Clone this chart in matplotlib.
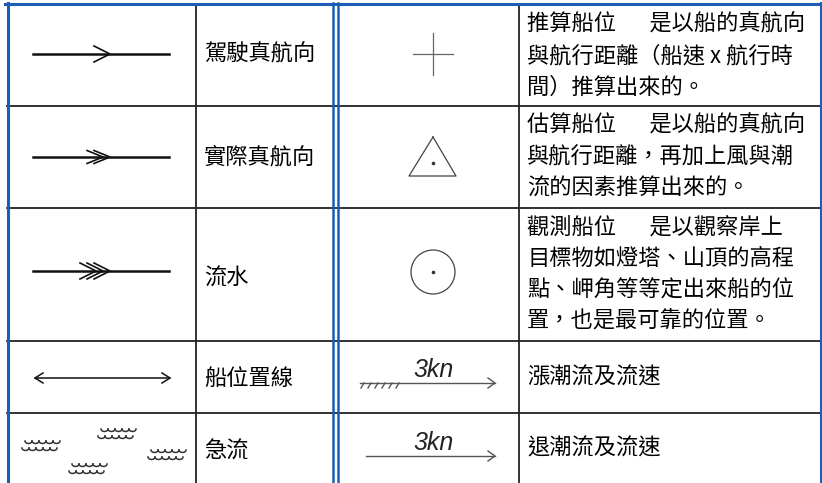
import numpy as np
import matplotlib
matplotlib.use('Agg')
import matplotlib.pyplot as plt

plt.rcParams['font.family'] = ['Noto Sans CJK TC', 'DejaVu Sans']

# 表格內容
labels = ["駕駛真航向", "實際真航向", "流水", "船位置線", "急流"]
descriptions = [
    ["推算船位\u2002\u3000是以船的真航向", "與航行距離（船速 x 航行時", "間）推算出來的。"],
    ["估算船位\u2002\u3000是以船的真航向", "與航行距離，再加上風與潮", "流的因素推算出來的。"],
    ["觀測船位\u2002\u3000是以觀察岸上", "目標物如燈塔、山頂的高程", "點、岬角等等定出來船的位", "置，也是最可靠的位置。"],
    ["漲潮流及流速"],
    ["退潮流及流速"],
]
speed_label = "3kn"

# 版面 (像素座標)
W, H = 822, 483
row_edges = [4, 106, 208, 341, 413, 483]
col_x = [7, 196, 335, 519, 821]
label_y = [54, 157, 278, 378, 451]
desc_first_y = [24, 125, 227, 377, 448]
line_gap = 31.5
blue = '#1c5db5'
ink = '#111111'

fig = plt.figure(figsize=(W / 100, H / 100), dpi=100)
ax = fig.add_axes([0, 0, 1, 1])
ax.set_xlim(0, W)
ax.set_ylim(H, 0)
ax.axis('off')

# 格線
for y in row_edges[1:-1]:
    ax.plot([col_x[0], col_x[-1]], [y, y], color='#222222', lw=1.3)
for x in [col_x[1], col_x[3]]:
    ax.plot([x, x], [row_edges[0], H], color='#222222', lw=1.3)

# 藍色外框與雙線
ax.plot([5, W], [3.5, 3.5], color=blue, lw=2.2)
ax.plot([7.5, 7.5], [3, H], color=blue, lw=2.2)
ax.plot([820.5, 820.5], [3, H], color=blue, lw=2.2)
ax.plot([333.3, 333.3], [3, H], color=blue, lw=1.8)
ax.plot([337.7, 337.7], [3, H], color=blue, lw=1.8)

# 文字
for lab, y in zip(labels, label_y):
    ax.text(204, y, lab, fontsize=16, fontweight='medium', va='center', ha='left', color='#000000')
for lines, y0 in zip(descriptions, desc_first_y):
    for i, s in enumerate(lines):
        ax.text(527, y0 + i * line_gap, s, fontsize=16, fontweight='medium',
                va='center', ha='left', color='#000000')


def chevron(xtip, y, dx, dy, lw=1.2, color=ink):
    ax.plot([xtip - dx, xtip, xtip - dx], [y - dy, y, y + dy], color=color, lw=lw,
            solid_joinstyle='miter')


# 航向箭號
arrow_rows = [(54, 1), (157, 2), (271, 3)]
for y, n in arrow_rows:
    ax.plot([33, 169], [y, y], color=ink, lw=1.8)
    for k in range(n):
        chevron(110 - 7 * k, y, 16, 8 if n != 2 else 6.5)

# 船位置線
y = 378
ax.plot([35, 170], [y, y], color=ink, lw=1.1)
chevron(170, y, 8, 5, lw=1.1)
ax.plot([43, 35, 43], [y - 5, y, y + 5], color=ink, lw=1.1)

# 急流
waves = [(25, 441), (101, 429), (72, 464), (151, 450)]
t = np.linspace(0, np.pi, 20)
r = 3.5
for wx, wy in waves:
    for row, (ox, oy) in enumerate([(0, 0), (-3, 7)]):
        for k in range(5):
            cx = wx + ox + r + k * 2 * r
            ax.plot(cx + r * np.cos(t), wy + oy + 0.7 * r * np.sin(t), color='#333333', lw=1.1)

# 船位符號
cx = 433
ax.plot([cx - 20, cx + 20], [54, 54], color='#666666', lw=0.9)
ax.plot([cx, cx], [33, 75], color='#666666', lw=0.9)
ax.plot([cx, cx - 24, cx + 23, cx], [137, 176, 176, 137], color='#444444', lw=0.9)
ax.plot([cx], [163], marker='o', ms=1.6, color='#333333')
ax.add_patch(plt.Circle((cx, 272), 22, fill=False, ec='#444444', lw=0.9))
ax.plot([cx], [272], marker='o', ms=1.6, color='#333333')

# 潮流
for (x0, ly, ty, hatch) in [(360, 383, 370, True), (366, 456, 443, False)]:
    ax.plot([x0, 495], [ly, ly], color='#555555', lw=1.0)
    chevron(495, ly, 7, 5, lw=1.0, color='#555555')
    ax.text(434, ty, speed_label, fontsize=18, style='italic', family='Liberation Sans',
            ha='center', va='center', color='#222222')
    if hatch:
        for k in range(6):
            hx = x0 + 4 + k * 7
            ax.plot([hx, hx - 3], [ly, ly + 5], color='#555555', lw=1.0)

fig.savefig('out.png', dpi=100)
